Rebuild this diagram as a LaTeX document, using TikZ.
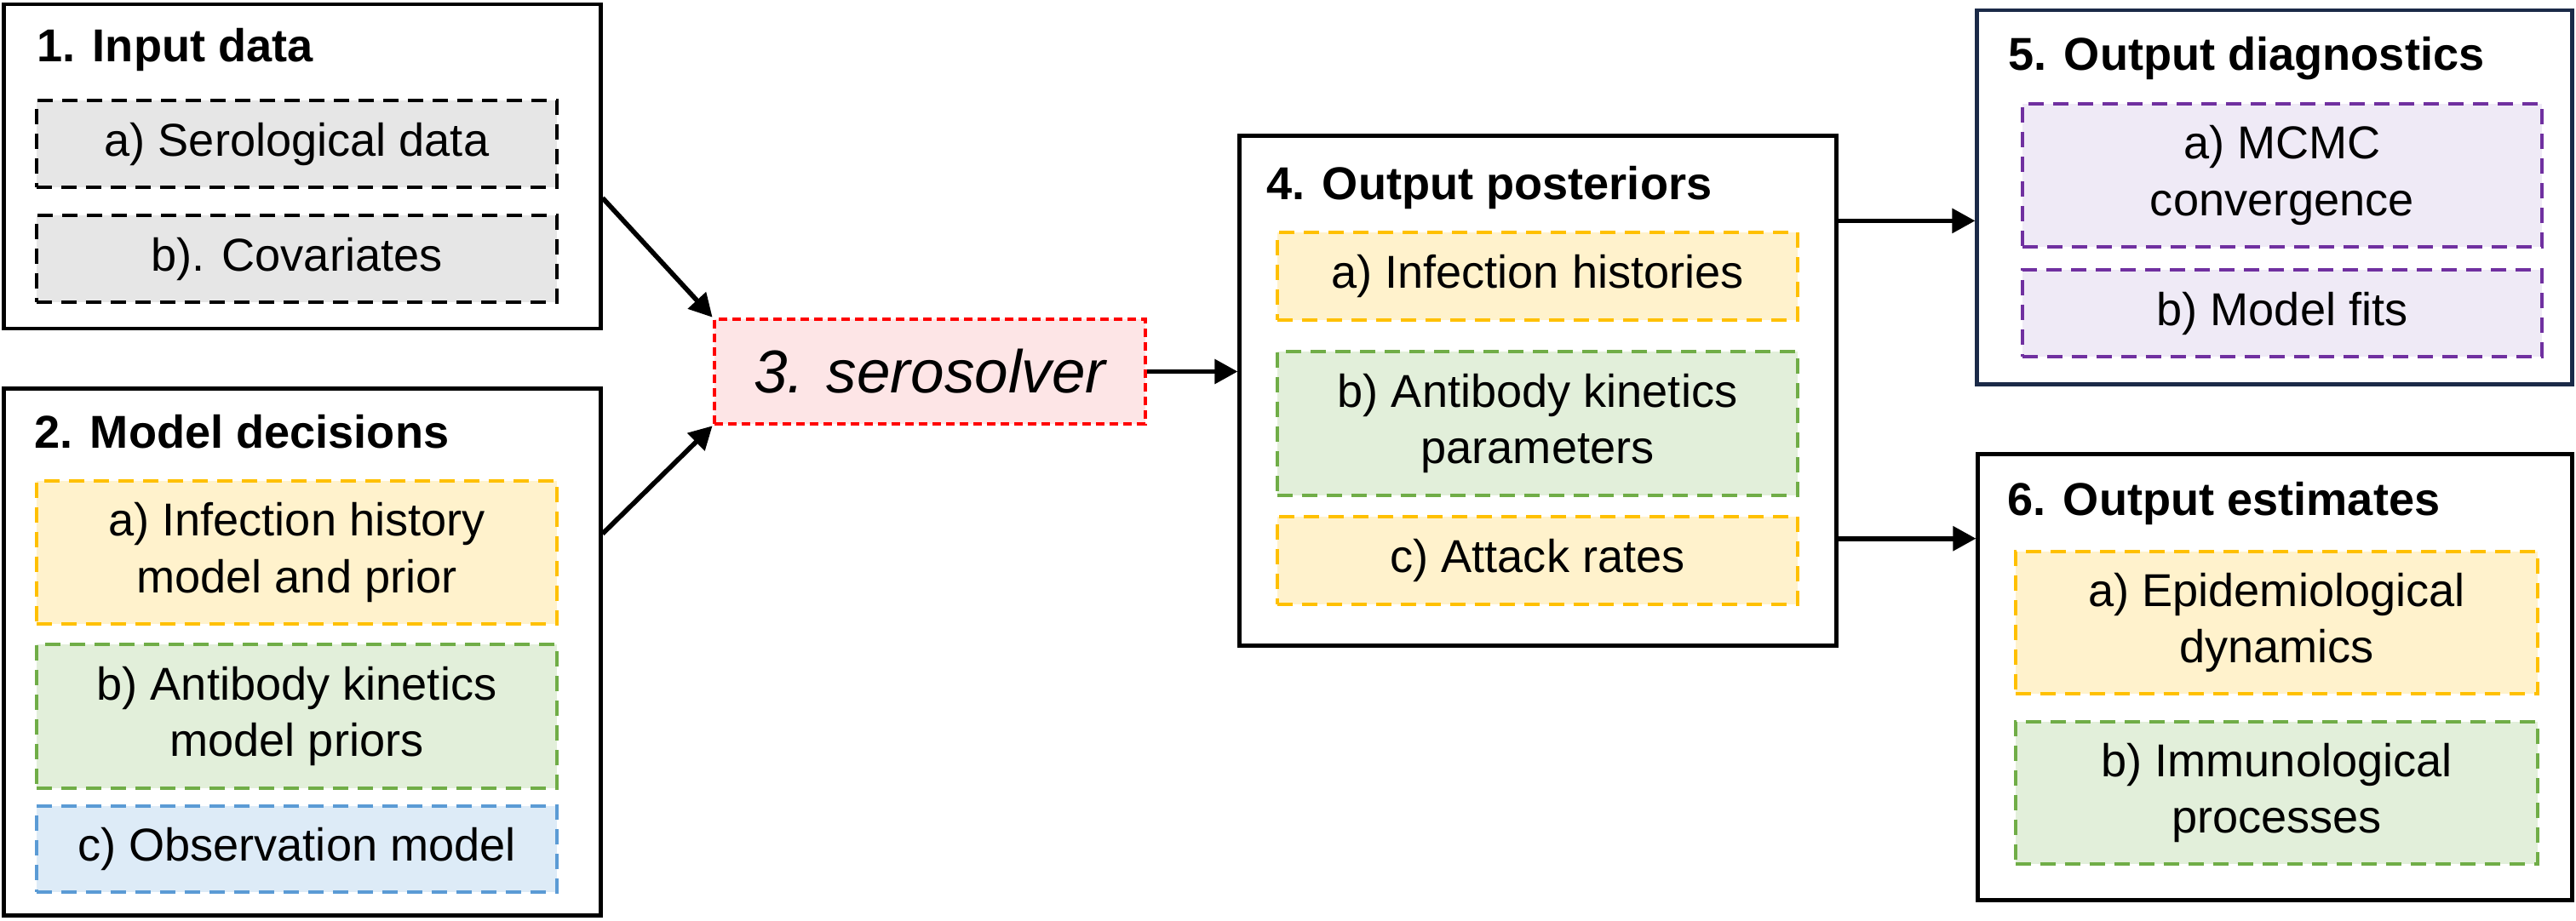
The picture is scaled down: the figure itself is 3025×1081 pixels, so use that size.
\documentclass[tikz,border=0pt]{standalone}
\usepackage{fontspec}
\setmainfont{Liberation Sans}
\usetikzlibrary{arrows.meta,calc}
\definecolor{greyfill}{HTML}{E6E6E6}
\definecolor{yelfill}{HTML}{FFF2CC}
\definecolor{yeldraw}{HTML}{FFC000}
\definecolor{grnfill}{HTML}{E2EFDA}
\definecolor{grndraw}{HTML}{70AD47}
\definecolor{bluefill}{HTML}{DDEBF7}
\definecolor{bluedraw}{HTML}{5B9BD5}
\definecolor{redfill}{HTML}{FDE5E6}
\definecolor{reddraw}{HTML}{FF0000}
\definecolor{purfill}{HTML}{EFEAF6}
\definecolor{purdraw}{HTML}{7030A0}
\definecolor{navy}{HTML}{1B2A48}
\newcommand\mybody{\fontsize{15.4}{18.8}\selectfont}
\newcommand\mytitle{\fontsize{15.4}{18.8}\selectfont\bfseries}
\newcommand\mysero{\fontsize{20.2}{24}\selectfont\itshape}
\begin{document}
\begin{tikzpicture}[x=0.01cm,y=-0.01cm,
  outerbox/.style={draw=black, line width=1.35pt, fill=white, inner sep=0pt},
  subbox/.style={line width=1.1pt, dash pattern=on 0.18cm off 0.11cm, inner sep=0pt, align=center, font=\mybody},
  greybox/.style={subbox, draw=black, fill=greyfill},
  yelbox/.style={subbox, draw=yeldraw, fill=yelfill},
  grnbox/.style={subbox, draw=grndraw, fill=grnfill},
  bluebox/.style={subbox, draw=bluedraw, fill=bluefill},
  purbox/.style={subbox, draw=purdraw, fill=purfill},
  titletext/.style={anchor=base west, inner sep=0pt, font=\mytitle},
  arr/.style={line width=1.6pt, -{Triangle[length=0.27cm, width=0.28cm]}}
]
\useasboundingbox (0,0) rectangle (3025,1081);

% Box 1
\node[outerbox, minimum width=7.00cm, minimum height=3.81cm] (box1) at (355,195.5) {};
\node[titletext] (t1) at (43,72) {1. Input data};
\node[greybox, minimum width=6.11cm, minimum height=1.02cm] (b1a) at (348.5,169) {a) Serological data};
\node[greybox, minimum width=6.11cm, minimum height=1.02cm] (b1b) at (348.5,304) {b). Covariates};

% Box 2
\node[outerbox, minimum width=7.00cm, minimum height=6.18cm] (box2) at (355,766) {};
\node[titletext] (t2) at (40,526) {2. Model decisions};
\node[yelbox, minimum width=6.11cm, minimum height=1.68cm] (b2a) at (348.5,649) {a) Infection history\\model and prior};
\node[grnbox, minimum width=6.11cm, minimum height=1.69cm] (b2b) at (348.5,841.5) {b) Antibody kinetics\\model priors};
\node[bluebox, minimum width=6.11cm, minimum height=1.01cm] (b2c) at (348.5,997.5) {c) Observation model};

% serosolver
\node[line width=1.3pt, draw=reddraw, fill=redfill, dash pattern=on 0.10cm off 0.06cm, inner sep=0pt,
      minimum width=5.06cm, minimum height=1.23cm, font=\mysero] (sero) at (1092,436.5) {3. serosolver};

% Box 4
\node[outerbox, minimum width=7.00cm, minimum height=5.98cm] (box4) at (1806,459) {};
\node[titletext] (t4) at (1487,234) {4. Output posteriors};
\node[yelbox, minimum width=6.11cm, minimum height=1.03cm] (b4a) at (1805.5,324.5) {a) Infection histories};
\node[grnbox, minimum width=6.11cm, minimum height=1.69cm] (b4b) at (1805.5,497.5) {b) Antibody kinetics\\parameters};
\node[yelbox, minimum width=6.11cm, minimum height=1.03cm] (b4c) at (1805.5,658.5) {c) Attack rates};

% Box 5
\node[outerbox, draw=navy, minimum width=6.98cm, minimum height=4.39cm] (box5) at (2671,231.5) {};
\node[titletext] (t5) at (2358,82) {5. Output diagnostics};
\node[purbox, minimum width=6.10cm, minimum height=1.68cm] (b5a) at (2680,206) {a) MCMC\\convergence};
\node[purbox, minimum width=6.10cm, minimum height=1.02cm] (b5b) at (2680,368) {b) Model fits};

% Box 6
\node[outerbox, minimum width=6.97cm, minimum height=5.23cm] (box6) at (2671.5,795.5) {};
\node[titletext] (t6) at (2357,605) {6. Output estimates};
\node[yelbox, minimum width=6.13cm, minimum height=1.67cm] (b6a) at (2673.5,731.5) {a) Epidemiological\\dynamics};
\node[grnbox, minimum width=6.13cm, minimum height=1.67cm] (b6b) at (2673.5,931.5) {b) Immunological\\processes};

% Arrows
\draw[arr] ($(box1.north east)!0.596!(box1.south east)$) -- (sero.north west);
\draw[arr] ($(box2.north east)!0.277!(box2.south east)$) -- (sero.south west);
\draw[arr] (sero.east) -- (sero.east -| box4.west);
\coordinate (p5) at ($(box4.north east)!0.169!(box4.south east)$);
\coordinate (p6) at ($(box4.north east)!0.788!(box4.south east)$);
\draw[arr] (p5) -- (p5 -| box5.west);
\draw[arr] (p6) -- (p6 -| box6.west);
\end{tikzpicture}
\end{document}
